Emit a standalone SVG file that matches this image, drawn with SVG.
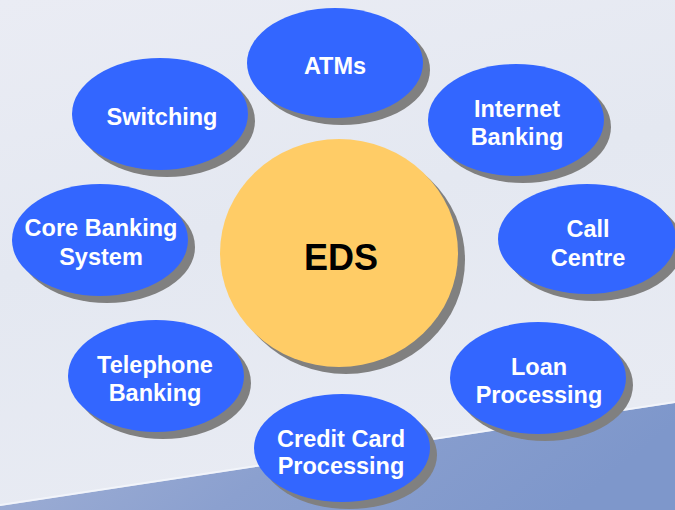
<svg xmlns="http://www.w3.org/2000/svg" width="675" height="510" viewBox="0 0 675 510">
  <defs>
    <linearGradient id="bg" x1="0" y1="0" x2="0.3" y2="1">
      <stop offset="0" stop-color="#eaecf4"/>
      <stop offset="0.5" stop-color="#e4e8f1"/>
      <stop offset="1" stop-color="#e8ebf3"/>
    </linearGradient>
    <linearGradient id="band" x1="0" y1="0" x2="1" y2="0.2">
      <stop offset="0" stop-color="#a3b2d6"/>
      <stop offset="0.5" stop-color="#8ba0cf"/>
      <stop offset="1" stop-color="#7e97cb"/>
    </linearGradient>
    <style>
      .shadow { fill: #808080; }
      .node { fill: #3366ff; }
      .hub { fill: #ffcc66; }
      .label { font-family: "Liberation Sans", Arial, sans-serif; font-weight: bold; font-size: 23.5px; fill: #ffffff; text-anchor: middle; }
      .hub-label { font-family: "Liberation Sans", Arial, sans-serif; font-weight: bold; font-size: 36px; fill: #000000; text-anchor: middle; }
    </style>
  </defs>

  <!-- backdrop -->
  <rect x="0" y="0" width="675" height="510" fill="url(#bg)"/>
  <polygon points="0,506 675,403 675,510 0,510" fill="url(#band)"/>
  <polyline points="0,505 675,402" fill="none" stroke="#f4f6fb" stroke-width="2" opacity="0.8"/>

  <!-- no connectors in this layout -->
  <g id="connectors"></g>

  <g id="eds">
    <ellipse class="shadow" cx="346" cy="260" rx="119" ry="114"/>
    <ellipse class="hub" cx="339" cy="253" rx="119" ry="114"/>
    <text class="hub-label" x="341" y="270">EDS</text>
  </g>

  <g id="atms">
    <ellipse class="shadow" cx="342" cy="70" rx="88" ry="55"/>
    <ellipse class="node" cx="335" cy="63" rx="88" ry="55"/>
    <text class="label" x="335" y="74">ATMs</text>
  </g>

  <g id="internet-banking">
    <ellipse class="shadow" cx="523" cy="127" rx="88" ry="56"/>
    <ellipse class="node" cx="516" cy="120" rx="88" ry="56"/>
    <text class="label" x="517" y="117">Internet</text>
    <text class="label" x="517" y="145">Banking</text>
  </g>

  <g id="call-centre">
    <ellipse class="shadow" cx="594" cy="246" rx="89" ry="55"/>
    <ellipse class="node" cx="587" cy="239" rx="89" ry="55"/>
    <text class="label" x="588" y="237">Call</text>
    <text class="label" x="588" y="266">Centre</text>
  </g>

  <g id="loan-processing">
    <ellipse class="shadow" cx="545" cy="385" rx="88" ry="56"/>
    <ellipse class="node" cx="538" cy="378" rx="88" ry="56"/>
    <text class="label" x="539" y="375">Loan</text>
    <text class="label" x="539" y="403">Processing</text>
  </g>

  <g id="credit-card-processing">
    <ellipse class="shadow" cx="349" cy="455" rx="88" ry="54"/>
    <ellipse class="node" cx="342" cy="448" rx="88" ry="54"/>
    <text class="label" x="341" y="447">Credit Card</text>
    <text class="label" x="341" y="474">Processing</text>
  </g>

  <g id="telephone-banking">
    <ellipse class="shadow" cx="163" cy="383" rx="88" ry="56"/>
    <ellipse class="node" cx="156" cy="376" rx="88" ry="56"/>
    <text class="label" x="155" y="373">Telephone</text>
    <text class="label" x="155" y="401">Banking</text>
  </g>

  <g id="core-banking-system">
    <ellipse class="shadow" cx="107" cy="247" rx="88" ry="56"/>
    <ellipse class="node" cx="100" cy="240" rx="88" ry="56"/>
    <text class="label" x="101" y="236">Core Banking</text>
    <text class="label" x="101" y="265">System</text>
  </g>

  <g id="switching">
    <ellipse class="shadow" cx="167" cy="121" rx="88" ry="56"/>
    <ellipse class="node" cx="160" cy="114" rx="88" ry="56"/>
    <text class="label" x="162" y="125">Switching</text>
  </g>
</svg>
